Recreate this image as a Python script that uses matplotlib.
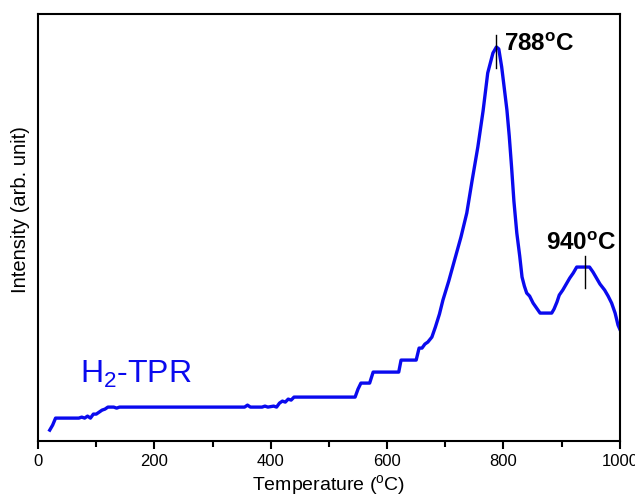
import matplotlib.pyplot as plt

plt.rcParams['font.family'] = ['Liberation Sans', 'DejaVu Sans']
plt.rcParams['mathtext.fontset'] = 'custom'
plt.rcParams['mathtext.rm'] = 'Liberation Sans'
plt.rcParams['mathtext.bf'] = 'Liberation Sans:bold'

temp = [20, 25, 30, 70, 75, 80, 85, 90, 95, 100, 105, 110, 115, 120, 130, 135, 140,
        355, 360, 365, 385, 390, 395, 405, 410, 415, 420, 425, 430, 435, 440, 450,
        545, 550, 555, 570, 576, 620, 624, 650, 655, 660, 665, 670, 677, 683, 690,
        696, 706, 716, 727, 737, 746, 756, 765, 773, 782, 788, 792, 797, 801, 806,
        810, 814, 818, 823, 828, 832, 836, 840, 845, 851, 857, 863, 883, 887, 892,
        896, 902, 908, 914, 920, 926, 948, 954, 960, 966, 974, 980, 986, 992, 997, 1000]
intensity = [11, 16, 23, 23, 24, 23, 25, 23, 27, 27, 29, 31, 32, 34, 34, 33, 34,
             34, 36, 34, 34, 35, 34, 35, 34, 38, 40, 39, 42, 41, 44, 44,
             44, 52, 58, 58, 69, 69, 81, 81, 93, 93, 97, 99, 104, 114, 127,
             141, 160, 181, 204, 228, 260, 294, 330, 368, 388, 394, 392, 374, 355, 331,
             305, 274, 240, 208, 185, 164, 155, 148, 145, 138, 133, 128, 128, 132, 139,
             146, 151, 157, 163, 168, 174, 174, 169, 163, 157, 151, 145, 138, 128, 116, 112]

peaks = [788, 940]
peak_marks = [(373, 406), (153, 185)]
peak_text_pos = [(801, 396), (874, 198)]

fig = plt.figure(figsize=(6.35, 4.99), dpi=100)
ax = fig.add_axes([0.060, 0.116, 0.916, 0.856])
ax.plot(temp, intensity, color='#0a0aee', lw=2.4)

for p, (y0, y1), (tx, ty) in zip(peaks, peak_marks, peak_text_pos):
    ax.plot([p, p], [y0, y1], color='black', lw=1.0)
    ax.text(tx, ty, str(p) + r'$^{\mathbf{o}}$C', fontsize=17.5, fontweight='bold',
            va='center', ha='left')

ax.text(72, 67, r'H$_2$-TPR', color='#0a0aee', fontsize=23, va='center', ha='left')

ax.set_xlim(0, 1000)
ax.set_ylim(0, 427)
ax.set_xticks(range(0, 1001, 200))
ax.set_xticks(range(100, 1000, 200), minor=True)
ax.set_yticks([])
ax.tick_params(axis='x', which='major', length=6, width=1.5, labelsize=12, direction='out')
ax.tick_params(axis='x', which='minor', length=4, width=1.5, direction='out')
for s in ax.spines.values():
    s.set_linewidth(1.5)

ax.set_xlabel(r'Temperature ($^{\mathrm{o}}$C)', fontsize=14, labelpad=3)
ax.set_ylabel('Intensity (arb. unit)', fontsize=14.5)
ax.yaxis.set_label_coords(-0.014, 0.543)

plt.savefig('out.png', dpi=100)
